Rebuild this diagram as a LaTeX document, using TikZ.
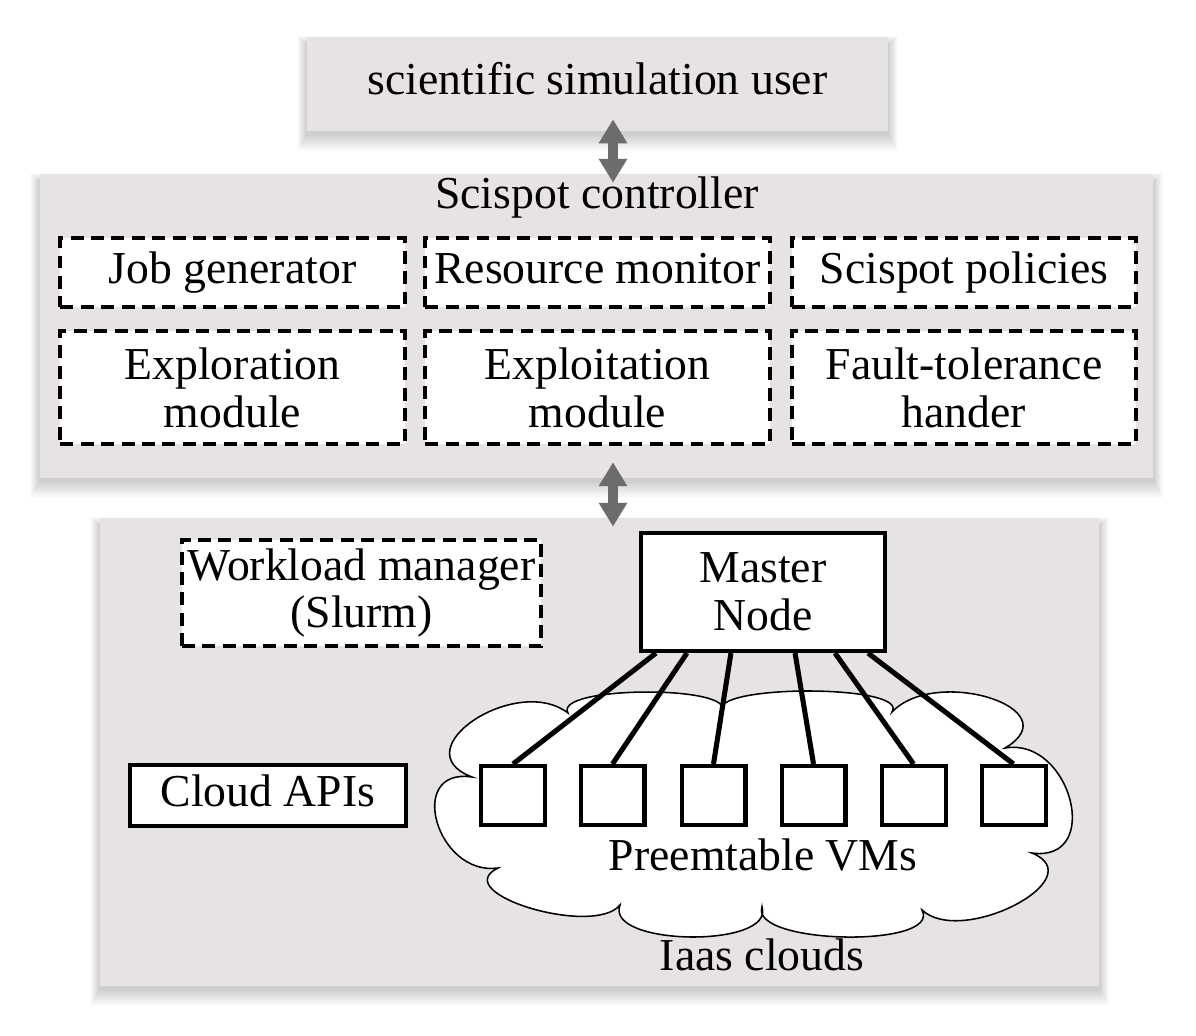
\documentclass[tikz,border=0pt]{standalone}
\usepackage{fontspec}
\setmainfont{Liberation Serif}
\usetikzlibrary{arrows.meta}
\definecolor{panel}{RGB}{231,227,226}
\definecolor{arrowgray}{RGB}{108,108,108}
\pgfdeclarelayer{bg}
\pgfsetlayers{bg,main}
\newcommand\mysoftshadow[1]{%
  \foreach \k in {1,...,12} {%
    \fill[black, opacity=0.014]
      ([xshift=-\k*0.55pt, yshift=-2pt-\k*1.0pt]#1.south west)
      rectangle ([xshift=\k*0.55pt, yshift=-6pt+\k*0.55pt]#1.north east);
  }%
}
\begin{document}
\begin{tikzpicture}[x=0.025cm,y=-0.025cm,
  every node/.style={font=\fontsize{32.5}{34}\selectfont, inner sep=0pt, align=center},
  oneline/.style={text height=22pt, text depth=7pt},
  panelbox/.style={fill=panel, draw=none},
  dashbox/.style={draw=black, fill=white, line width=2.85pt, dash pattern=on 9.2pt off 5.3pt, minimum width=244.7pt},
  solidbox/.style={draw=black, fill=white, line width=3pt},
  vmbox/.style={draw=black, fill=white, line width=2.85pt, minimum width=45.5pt, minimum height=42pt},
  bigarrow/.style={draw=arrowgray, line width=7.1pt, {Triangle[width=19.2pt,length=17pt]}-{Triangle[width=19.2pt,length=17pt]}},
  link/.style={draw=black, line width=3.6pt},
  cloudline/.style={draw=black, fill=white, line width=1.1pt}]
\useasboundingbox (0,0) rectangle (1196,1036);

% panels
\node[panelbox, oneline, minimum width=413.3pt, minimum height=66.9pt] (user) at (597.5,84) {scientific simulation user};
\node[panelbox, minimum width=791.7pt, minimum height=216.2pt] (ctrl) at (596.5,326) {};
\node[panelbox, minimum width=710.6pt, minimum height=332.9pt] (infra) at (599.5,752) {};

\begin{pgfonlayer}{bg}
  \fill[white] (0,0) rectangle (1196,1036);
  \mysoftshadow{user}
  \mysoftshadow{ctrl}
  \mysoftshadow{infra}
\end{pgfonlayer}

\node[anchor=base] (ctitle) at (597,209) {Scispot controller};

% controller modules
\node[dashbox, oneline, minimum height=49.1pt] (jg) at (232.5,272.5) {Job generator};
\node[dashbox, oneline, minimum height=49.1pt] (rm) at (597.5,272.5) {Resource monitor};
\node[dashbox, oneline, minimum height=49.1pt] (sp) at (964,272.5) {Scispot policies};
\node[dashbox, minimum height=80.4pt] (em) at (232.5,387.5) {Exploration\\module};
\node[dashbox, minimum height=80.4pt] (xm) at (597.5,387.5) {Exploitation\\module};
\node[dashbox, minimum height=80.4pt] (ft) at (964,387.5) {Fault-tolerance\\hander};

% arrows
\coordinate (ax) at (613,0);
\draw[bigarrow, shorten <=-8.5pt, shorten >=-6.4pt] (user.south -| ax) -- (ctrl.north -| ax);
\draw[bigarrow, shorten <=-11.4pt, shorten >=-6.4pt] (ctrl.south -| ax) -- (infra.north -| ax);

% infrastructure
\node[dashbox, minimum width=255.4pt, minimum height=75.4pt] (wm) at (361.5,593) {Workload manager\\(Slurm)};
\node[solidbox, oneline, minimum width=196.3pt, minimum height=43.4pt] (capi) at (268,795.5) {Cloud APIs};

% cloud
\path[cloudline] (472,777)
  .. controls (401.1,750.1) and (516.3,673.3) .. (568,713)
  .. controls (552.6,685.8) and (737.4,684.6) .. (722,712)
  .. controls (706.3,684) and (910.3,684) .. (892,712)
  .. controls (936,665.7) and (1071.6,708.9) .. (1005,748)
  .. controls (1071,736.8) and (1103.4,862.8) .. (1032,853)
  .. controls (1093.7,878.6) and (961.7,947) .. (922,910)
  .. controls (942,948.3) and (750,944.7) .. (762,907)
  .. controls (774.9,948.5) and (604.5,946.1) .. (620,905)
  .. controls (593.5,937.4) and (447.1,893) .. (498,868)
  .. controls (436.6,876.4) and (405.4,767.2) .. (472,777) -- cycle;

\node[solidbox, minimum width=173.6pt, minimum height=83.9pt] (master) at (763,592) {Master\\Node};

\node[vmbox] (vm1) at (513,795.5) {};
\node[vmbox] (vm2) at (612.5,795.5) {};
\node[vmbox] (vm3) at (713.5,795.5) {};
\node[vmbox] (vm4) at (813.5,795.5) {};
\node[vmbox] (vm5) at (913.5,795.5) {};
\node[vmbox] (vm6) at (1013.5,795.5) {};

\draw[link] ([xshift=-76.1pt]master.south) -- (vm1.north);
\draw[link] ([xshift=-54.1pt]master.south) -- (vm2.north);
\draw[link] ([xshift=-22.8pt]master.south) -- (vm3.north);
\draw[link] ([xshift=22.8pt]master.south) -- (vm4.north);
\draw[link] ([xshift=51.2pt]master.south) -- (vm5.north);
\draw[link] ([xshift=74.7pt]master.south) -- (vm6.north);

\node[anchor=base] (pvm) at (763,870) {Preemtable VMs};
\node[anchor=base] (iaas) at (762,970) {Iaas clouds};
\end{tikzpicture}
\end{document}
